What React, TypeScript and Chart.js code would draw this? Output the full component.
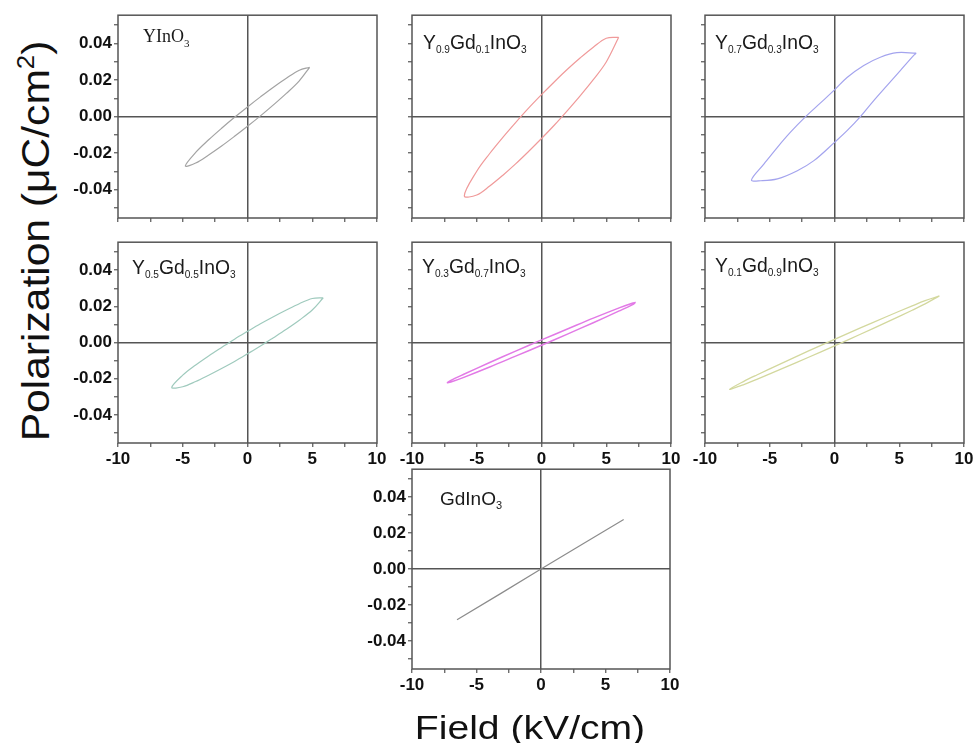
import React, { useEffect, useRef } from "react";
import { Chart, registerables } from "chart.js";

Chart.register(...registerables);

// ---------- tick labels ----------
const xTickLabels = ["-10", "-5", "0", "5", "10"];
const yTickLabels = ["-0.04", "-0.02", "0.00", "0.02", "0.04"];

// ---------- data (field in kV/cm, polarization in uC/cm^2) ----------
const fieldYInO3 = [4.8, 4, 3, 2, 1, 0, -1, -2, -3, -4, -4.8, -4, -3, -2, -1, 0, 1, 2, 3, 4, 4.8];
const polYInO3 = [0.027, 0.0254, 0.021, 0.0161, 0.0108, 0.0053, -0.0004, -0.0064, -0.0127, -0.0196, -0.027, -0.0254, -0.021, -0.0161, -0.0108, -0.0053, 0.0004, 0.0064, 0.0127, 0.0196, 0.027];

const fieldGd01 = [5.96, 5, 4, 3, 2, 1, 0, -1, -2, -3, -4, -5, -5.96, -5, -4, -3, -2, -1, 0, 1, 2, 3, 4, 5, 5.96];
const polGd01 = [0.0434, 0.0429, 0.038, 0.0322, 0.0259, 0.0191, 0.012, 0.0046, -0.0033, -0.0115, -0.0202, -0.0299, -0.0434, -0.0429, -0.038, -0.0322, -0.0259, -0.0191, -0.012, -0.0046, 0.0033, 0.0115, 0.0202, 0.0299, 0.0434];

const fieldGd03 = [6.31, 4.82, 3.54, 2.26, 0.97, 0, -1.08, -2.23, -3.38, -4.41, -5.44, -6.41, -5.69, -4.41, -2.87, -1.59, 0, 0.97, 2.0, 3.03, 4.05, 5.08, 6.1, 6.31];
const polGd03 = [0.0347, 0.035, 0.0325, 0.028, 0.0214, 0.0146, 0.0075, 0, -0.0084, -0.0168, -0.0259, -0.0347, -0.0351, -0.0341, -0.0296, -0.0241, -0.0141, -0.0077, 0, 0.0088, 0.017, 0.0252, 0.0334, 0.0347];

const fieldGd05 = [5.85, 5, 4, 3, 2, 1, 0, -1, -2, -3, -4, -5, -5.85, -5, -4, -3, -2, -1, 0, 1, 2, 3, 4, 5, 5.85];
const polGd05 = [0.0248, 0.0244, 0.0215, 0.018, 0.0143, 0.0104, 0.0062, 0.0019, -0.0027, -0.0074, -0.0124, -0.018, -0.0248, -0.0244, -0.0215, -0.018, -0.0143, -0.0104, -0.0062, -0.0019, 0.0027, 0.0074, 0.0124, 0.018, 0.0248];

const fieldGd07 = [7.27, 7, 6, 4, 2, 0, -2, -4, -6, -7, -7.27, -7, -6, -4, -2, 0, 2, 4, 6, 7, 7.27];
const polGd07 = [0.0222, 0.0218, 0.0192, 0.0135, 0.0075, 0.0015, -0.0047, -0.011, -0.0175, -0.0209, -0.0222, -0.0218, -0.0192, -0.0135, -0.0075, -0.0015, 0.0047, 0.011, 0.0175, 0.0209, 0.0222];

const fieldGd09 = [8.1, 7, 6, 4, 2, 0, -2, -4, -6, -7, -8.1, -7, -6, -4, -2, 0, 2, 4, 6, 7, 8.1];
const polGd09 = [0.0258, 0.0232, 0.0203, 0.0143, 0.0081, 0.0018, -0.0046, -0.0112, -0.0179, -0.0214, -0.0258, -0.0232, -0.0203, -0.0143, -0.0081, -0.0018, 0.0046, 0.0112, 0.0179, 0.0214, 0.0258];

const fieldGdInO3 = [6.41, 3.2, 0, -3.2, -6.51];
const polGdInO3 = [0.0276, 0.0138, 0, -0.0139, -0.0282];

// ---------- titles (text, isSubscript) ----------
const titleYInO3: [string, boolean][] = [["YInO", false], ["3", true]];
const titleGd01: [string, boolean][] = [["Y", false], ["0.9", true], ["Gd", false], ["0.1", true], ["InO", false], ["3", true]];
const titleGd03: [string, boolean][] = [["Y", false], ["0.7", true], ["Gd", false], ["0.3", true], ["InO", false], ["3", true]];
const titleGd05: [string, boolean][] = [["Y", false], ["0.5", true], ["Gd", false], ["0.5", true], ["InO", false], ["3", true]];
const titleGd07: [string, boolean][] = [["Y", false], ["0.3", true], ["Gd", false], ["0.7", true], ["InO", false], ["3", true]];
const titleGd09: [string, boolean][] = [["Y", false], ["0.1", true], ["Gd", false], ["0.9", true], ["InO", false], ["3", true]];
const titleGdInO3: [string, boolean][] = [["GdInO", false], ["3", true]];

const yAxisTitle = "Polarization (μC/cm";
const xAxisTitle = "Field (kV/cm)";

// ---------- style / layout ----------
const AXIS = "#555";
const SANS = "'Liberation Sans', Arial, Helvetica, sans-serif";
const SERIF = "'Liberation Serif', 'Times New Roman', serif";
const PAD_T = 12;
const PAD_R = 18;
const Y_W = 60;
const X_H = 30;

type TitleStyle = { left: number; baseline: number; font: string; size: number; sub: number; subDrop: number; scaleX: number };

type PanelCfg = {
  field: number[];
  pol: number[];
  color: string;
  width: number;
  tension: number;
  L: number;
  T: number;
  W: number;
  H: number;
  showX: boolean;
  showY: boolean;
  title: [string, boolean][];
  ts: TitleStyle;
};

const sansTitle = (left: number, baseline: number): TitleStyle => ({ left, baseline, font: SANS, size: 21, sub: 11, subDrop: 4, scaleX: 0.92 });

const panels: PanelCfg[] = [
  { field: fieldYInO3, pol: polYInO3, color: "#a3a3a3", width: 1.2, tension: 0.35, L: 118, T: 15, W: 259, H: 203, showX: false, showY: true, title: titleYInO3, ts: { left: 143, baseline: 42, font: SERIF, size: 18, sub: 11, subDrop: 5, scaleX: 1 } },
  { field: fieldGd01, pol: polGd01, color: "#f09a9a", width: 1.2, tension: 0.35, L: 412, T: 15, W: 259, H: 203, showX: false, showY: false, title: titleGd01, ts: sansTitle(423, 49) },
  { field: fieldGd03, pol: polGd03, color: "#a4a4ee", width: 1.2, tension: 0.35, L: 705, T: 15, W: 259, H: 203, showX: false, showY: false, title: titleGd03, ts: sansTitle(715, 49) },
  { field: fieldGd05, pol: polGd05, color: "#9fcabd", width: 1.2, tension: 0.35, L: 118, T: 242, W: 259, H: 201, showX: true, showY: true, title: titleGd05, ts: sansTitle(132, 274) },
  { field: fieldGd07, pol: polGd07, color: "#e27ae6", width: 1.5, tension: 0.35, L: 412, T: 242, W: 259, H: 201, showX: true, showY: false, title: titleGd07, ts: sansTitle(422, 273) },
  { field: fieldGd09, pol: polGd09, color: "#d3d89e", width: 1.3, tension: 0.35, L: 705, T: 242, W: 259, H: 201, showX: true, showY: false, title: titleGd09, ts: sansTitle(715, 272) },
  { field: fieldGdInO3, pol: polGdInO3, color: "#8c8c8c", width: 1.2, tension: 0, L: 412, T: 469, W: 258, H: 200, showX: true, showY: true, title: titleGdInO3, ts: { left: 440, baseline: 505, font: SANS, size: 19, sub: 11, subDrop: 4, scaleX: 1 } },
];

const labelFor = (labels: string[], v: number) => {
  const hit = labels.find((s) => Math.abs(Number(s) - v) < 1e-6);
  return hit === undefined ? "" : hit;
};

const framePlugin = {
  id: "frame",
  afterDatasetsDraw(chart: any) {
    const { ctx, chartArea } = chart;
    ctx.save();
    ctx.strokeStyle = AXIS;
    ctx.lineWidth = 1.5;
    ctx.strokeRect(chartArea.left, chartArea.top, chartArea.right - chartArea.left, chartArea.bottom - chartArea.top);
    ctx.restore();
  },
};

const zeroColor = (c: any) => (c.tick && Math.abs(c.tick.value) < 1e-9 ? AXIS : "rgba(0,0,0,0)");

function Panel({ cfg }: { cfg: PanelCfg }) {
  const ref = useRef<HTMLCanvasElement>(null);
  const cw = Y_W + cfg.W + PAD_R;
  const ch = PAD_T + cfg.H + X_H;
  useEffect(() => {
    const tickFont = { family: SANS, size: 17, weight: "bold" as const };
    const chart = new Chart(ref.current as HTMLCanvasElement, {
      type: "scatter",
      data: {
        datasets: [
          {
            data: cfg.field.map((x, i) => ({ x, y: cfg.pol[i] })),
            showLine: true,
            borderColor: cfg.color,
            borderWidth: cfg.width,
            pointRadius: 0,
            pointHoverRadius: 0,
            tension: cfg.tension,
            fill: false,
          },
        ],
      },
      options: {
        animation: false,
        responsive: false,
        events: [],
        layout: { padding: { left: 0, top: PAD_T, right: PAD_R, bottom: 0 } },
        plugins: { legend: { display: false }, tooltip: { enabled: false }, title: { display: false } },
        scales: {
          x: {
            type: "linear",
            position: "bottom",
            min: -10,
            max: 10,
            afterFit: (s: any) => {
              s.height = X_H;
            },
            border: { display: false },
            grid: { drawOnChartArea: true, drawTicks: true, tickLength: 4, tickWidth: 1.2, tickColor: AXIS, color: zeroColor, lineWidth: 1.5 },
            ticks: {
              stepSize: 2.5,
              autoSkip: false,
              maxRotation: 0,
              minRotation: 0,
              padding: 2,
              color: "#111",
              font: tickFont,
              callback: (v: any) => (cfg.showX ? labelFor(xTickLabels, Number(v)) : ""),
            },
          },
          y: {
            type: "linear",
            position: "left",
            min: -0.0555,
            max: 0.0555,
            afterFit: (s: any) => {
              s.width = Y_W;
            },
            border: { display: false },
            grid: { drawOnChartArea: true, drawTicks: true, tickLength: 4, tickWidth: 1.2, tickColor: AXIS, color: zeroColor, lineWidth: 1.5 },
            ticks: {
              stepSize: 0.01,
              includeBounds: false,
              autoSkip: false,
              padding: 2,
              color: "#111",
              font: tickFont,
              callback: (v: any) => (cfg.showY ? labelFor(yTickLabels, Number(v)) : ""),
            },
          },
        },
      },
      plugins: [framePlugin],
    } as any);
    return () => chart.destroy();
  }, [cfg]);
  return (
    <canvas
      ref={ref}
      width={cw}
      height={ch}
      style={{ position: "absolute", left: cfg.L - Y_W, top: cfg.T - PAD_T, width: cw, height: ch }}
    />
  );
}

function Title({ cfg }: { cfg: PanelCfg }) {
  const ts = cfg.ts;
  const ascentRatio = ts.font === SERIF ? 0.8375 : 0.8465;
  return (
    <div
      style={{
        position: "absolute",
        left: ts.left,
        top: ts.baseline - ascentRatio * ts.size,
        fontFamily: ts.font,
        fontSize: ts.size,
        lineHeight: `${ts.size}px`,
        whiteSpace: "nowrap",
        color: "#1a1a1a",
        transform: `scaleX(${ts.scaleX})`,
        transformOrigin: "left top",
      }}
    >
      {cfg.title.map(([t, sub], i) =>
        sub ? (
          <span key={i} style={{ fontSize: ts.sub, lineHeight: `${ts.sub}px`, position: "relative", top: ts.subDrop }}>
            {t}
          </span>
        ) : (
          <span key={i}>{t}</span>
        )
      )}
    </div>
  );
}

export default function App() {
  return (
    <div style={{ position: "fixed", left: 0, top: 0, width: 975, height: 743, overflow: "hidden", background: "#fff" }}>
      {panels.map((p, i) => (
        <Panel key={i} cfg={p} />
      ))}
      {panels.map((p, i) => (
        <Title key={"t" + i} cfg={p} />
      ))}
      <div
        style={{
          position: "absolute",
          left: 36,
          top: 241,
          fontFamily: SANS,
          fontSize: 38,
          lineHeight: "38px",
          whiteSpace: "nowrap",
          color: "#111",
          transform: "translate(-50%, -50%) rotate(-90deg) scale(1.12, 1)",
        }}
      >
        {yAxisTitle}
        <span style={{ fontSize: 23, lineHeight: "23px", position: "relative", top: -15 }}>2</span>)
      </div>
      <div
        style={{
          position: "absolute",
          left: 530,
          top: 727,
          fontFamily: SANS,
          fontSize: 34,
          lineHeight: "34px",
          whiteSpace: "nowrap",
          color: "#111",
          transform: "translate(-50%, -50%) scale(1.15, 1)",
        }}
      >
        {xAxisTitle}
      </div>
    </div>
  );
}
